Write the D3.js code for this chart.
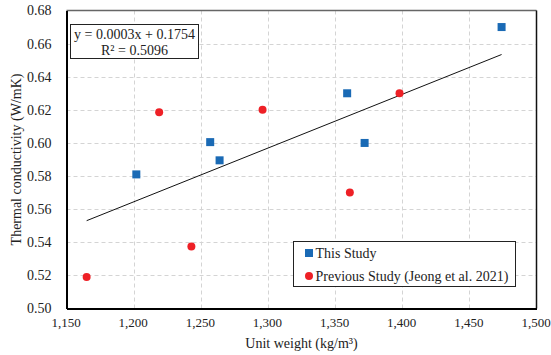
<!DOCTYPE html>
<html>
<head>
<meta charset="utf-8">
<script src="https://cdn.jsdelivr.net/npm/d3@7"></script>
<style>
  body { margin: 0; background: #fff; }
  text { font-family: "Liberation Serif", "Times New Roman", serif; }
</style>
</head>
<body>
<div id="chart"></div>
<script>
// unit weight (kg/m3) and thermal conductivity (W/mK)
const thisStudyX = [1202, 1257, 1264, 1359, 1372, 1474];
const thisStudyY = [0.581, 0.6005, 0.5895, 0.630, 0.600, 0.670];
const prevStudyX = [1165, 1219, 1243, 1296, 1361, 1398];
const prevStudyY = [0.519, 0.6185, 0.5375, 0.620, 0.570, 0.630];
const xTicks = [1150, 1200, 1250, 1300, 1350, 1400, 1450, 1500];
const yTicks = [0.50, 0.52, 0.54, 0.56, 0.58, 0.60, 0.62, 0.64, 0.66, 0.68];
const seriesNames = ["This Study", "Previous Study (Jeong et al. 2021)"];
const eqLines = ["y = 0.0003x + 0.1754", "R² = 0.5096"];

const width = 551, height = 355;
const margin = { top: 10.5, right: 14.5, bottom: 46.5, left: 66.5 };
const fs = '14px';

const svg = d3.select('#chart').append('svg')
    .attr('width', width)
    .attr('height', height);

const x = d3.scaleLinear()
    .domain([1150, 1500])
    .range([margin.left, width - margin.right]);

const y = d3.scaleLinear()
    .domain([0.50, 0.68])
    .range([height - margin.bottom, margin.top]);

// grid
const grid = svg.append('g')
    .attr('stroke', '#d4d4d4')
    .attr('stroke-width', 1)
    .attr('stroke-dasharray', '4,3');
grid.selectAll('.gx').data(xTicks.slice(1, -1)).join('line')
    .attr('x1', d => Math.round(x(d)) + 0.5).attr('x2', d => Math.round(x(d)) + 0.5)
    .attr('y1', margin.top).attr('y2', height - margin.bottom);
grid.selectAll('.gy').data(yTicks.slice(1, -1)).join('line')
    .attr('y1', d => Math.round(y(d)) + 0.5).attr('y2', d => Math.round(y(d)) + 0.5)
    .attr('x1', margin.left).attr('x2', width - margin.right);

// frame: top grey, right thin black
svg.append('line')
    .attr('x1', margin.left).attr('x2', width - margin.right)
    .attr('y1', margin.top).attr('y2', margin.top)
    .attr('stroke', '#666').attr('stroke-width', 1.5);
svg.append('line')
    .attr('x1', width - margin.right).attr('x2', width - margin.right)
    .attr('y1', margin.top).attr('y2', height - margin.bottom)
    .attr('stroke', '#111').attr('stroke-width', 1.5);

// axes
function xAxis(g) {
    g.attr('transform', `translate(0, ${height - margin.bottom})`)
        .call(d3.axisBottom(x).tickValues(xTicks).tickSize(0).tickPadding(9)
            .tickFormat(d3.format(',')));
    g.select('.domain').attr('stroke', '#000').attr('stroke-width', 2);
    g.selectAll('text').attr('font-size', '13px').attr('fill', '#222').attr('dx', -1)
        .style('font-family', '"Liberation Serif", serif');
}
function yAxis(g) {
    g.attr('transform', `translate(${margin.left}, 0)`)
        .call(d3.axisLeft(y).tickValues(yTicks).tickSize(0).tickPadding(15)
            .tickFormat(d3.format('.2f')));
    g.select('.domain').attr('stroke', '#000').attr('stroke-width', 2);
    g.selectAll('text').attr('font-size', fs).attr('fill', '#222')
        .style('font-family', '"Liberation Serif", serif');
}
svg.append('g').call(xAxis);
svg.append('g').call(yAxis);

// axis titles
svg.append('text')
    .attr('x', (margin.left + width - margin.right) / 2)
    .attr('y', 348)
    .attr('text-anchor', 'middle')
    .attr('font-size', fs).attr('fill', '#222')
    .text('Unit weight (kg/m³)');
svg.append('text')
    .attr('transform', `translate(21, ${(margin.top + height - margin.bottom) / 2}) rotate(-90)`)
    .attr('text-anchor', 'middle')
    .attr('font-size', fs).attr('fill', '#222')
    .text('Thermal conductivity (W/mK)');

// linear trend over both series
const allX = thisStudyX.concat(prevStudyX);
const allY = thisStudyY.concat(prevStudyY);
const mx = d3.mean(allX), my = d3.mean(allY);
const slope = d3.sum(allX, (v, i) => (v - mx) * (allY[i] - my)) / d3.sum(allX, v => (v - mx) ** 2);
const icpt = my - slope * mx;
const [xmin, xmax] = d3.extent(allX);
svg.append('line')
    .attr('x1', x(xmin)).attr('y1', y(slope * xmin + icpt))
    .attr('x2', x(xmax)).attr('y2', y(slope * xmax + icpt))
    .attr('stroke', '#111').attr('stroke-width', 1);

// markers
svg.append('g').attr('fill', '#1a6ab5')
    .selectAll('rect').data(thisStudyX).join('rect')
    .attr('x', d => x(d) - 4)
    .attr('y', (d, i) => y(thisStudyY[i]) - 4)
    .attr('width', 8).attr('height', 8);
svg.append('g').attr('fill', '#ee2026')
    .selectAll('circle').data(prevStudyX).join('circle')
    .attr('cx', d => x(d))
    .attr('cy', (d, i) => y(prevStudyY[i]))
    .attr('r', 4);

// equation box
svg.append('rect')
    .attr('x', 70.5).attr('y', 24.5).attr('width', 128).attr('height', 34)
    .attr('fill', '#fff').attr('stroke', '#222').attr('stroke-width', 1);
svg.selectAll('.eq').data(eqLines).join('text')
    .attr('x', 134.5)
    .attr('y', (d, i) => 38.5 + i * 16.5)
    .attr('text-anchor', 'middle')
    .attr('font-size', fs).attr('fill', '#222')
    .text(d => d);

// legend
const lg = svg.append('g');
lg.append('rect')
    .attr('x', 293.5).attr('y', 241.5).attr('width', 222).attr('height', 45)
    .attr('fill', '#fff').attr('stroke', '#222').attr('stroke-width', 1);
lg.append('rect').attr('x', 305).attr('y', 249).attr('width', 8).attr('height', 8).attr('fill', '#1a6ab5');
lg.append('circle').attr('cx', 309).attr('cy', 276).attr('r', 4).attr('fill', '#ee2026');
lg.selectAll('.lt').data(seriesNames).join('text')
    .attr('x', 315.5)
    .attr('y', (d, i) => 258 + i * 23)
    .attr('font-size', fs).attr('fill', '#222')
    .text(d => d);
</script>
</body>
</html>
